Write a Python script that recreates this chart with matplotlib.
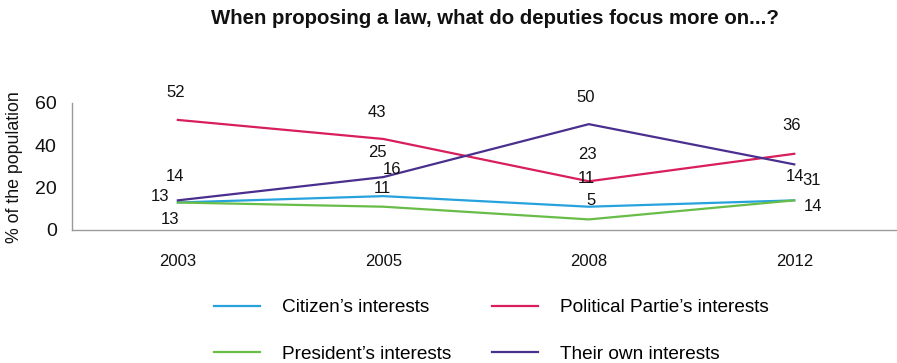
import matplotlib.pyplot as plt
import numpy as np

plt.rcParams['font.family'] = ['Liberation Sans', 'DejaVu Sans']

# survey waves
years = ['2003', '2005', '2008', '2012']

# share of the population (%) per answer
citizens = [13, 16, 11, 14]
parties = [52, 43, 23, 36]
president = [13, 11, 5, 14]
own = [14, 25, 50, 31]

series = [
    ("Citizen\u2019s interests", citizens, '#27a2dd'),
    ("President\u2019s interests", president, '#68bd48'),
    ("Political Partie\u2019s interests", parties, '#d81e5b'),
    ("Their own interests", own, '#4a2f8e'),
]

# label offsets (pixels) for each point, same order as series
label_offsets = {
    "Citizen\u2019s interests": [(-18, 6), (9, 27), (-2, 28), (1, 24)],
    "President\u2019s interests": [(-8, -17), (-1, 18), (2, 19), (19, -6)],
    "Political Partie\u2019s interests": [(-2, 27), (-6, 26), (-1, 27), (-3, 28)],
    "Their own interests": [(-3, 24), (-6, 25), (-3, 27), (17, -16)],
}

fig = plt.figure(figsize=(8.97, 3.63), dpi=100)
ax = fig.add_axes([0.0803, 0.3664, 0.9197, 0.3499])

x = np.arange(len(years))
for name, vals, color in series:
    ax.plot(x, vals, color=color, linewidth=1.6, label=name, solid_joinstyle='round')
    for xi, v, (dx, dy) in zip(x, vals, label_offsets[name]):
        ax.annotate(str(v), (xi, v), xytext=(dx, dy), textcoords='offset pixels',
                    ha='center', va='center', fontsize=12, color='#111111')

ax.set_xlim(-0.515, 3.5)
ax.set_ylim(0, 60)
ax.set_yticks([0, 20, 40, 60])
ax.set_xticks(x)
ax.set_xticklabels(years)
ax.tick_params(axis='y', length=0, pad=11, labelsize=14, labelcolor='#111111')
ax.tick_params(axis='x', length=0, pad=17, labelsize=12, labelcolor='#111111')
for side in ['top', 'right']:
    ax.spines[side].set_visible(False)
for side in ['left', 'bottom']:
    ax.spines[side].set_color('#9a9a9a')
    ax.spines[side].set_linewidth(1.0)

fig.text(15 / 897, 1 - 167 / 363, '% of the population', rotation=90,
         ha='center', va='center', fontsize=12.8, color='#111111')

fig.text(0.552, 0.950, 'When proposing a law, what do deputies focus more on...?',
         ha='center', va='center', fontsize=14.7, fontweight='bold', color='#111111')

fig.legend(loc='upper left', bbox_to_anchor=(0.2386, 0.176), ncol=2,
           frameon=False, fontsize=13.7, handlelength=2.4, handletextpad=1.17,
           columnspacing=2.15, labelspacing=1.52, borderpad=0, borderaxespad=0)

plt.savefig('out.png', dpi=100)
plt.close()
